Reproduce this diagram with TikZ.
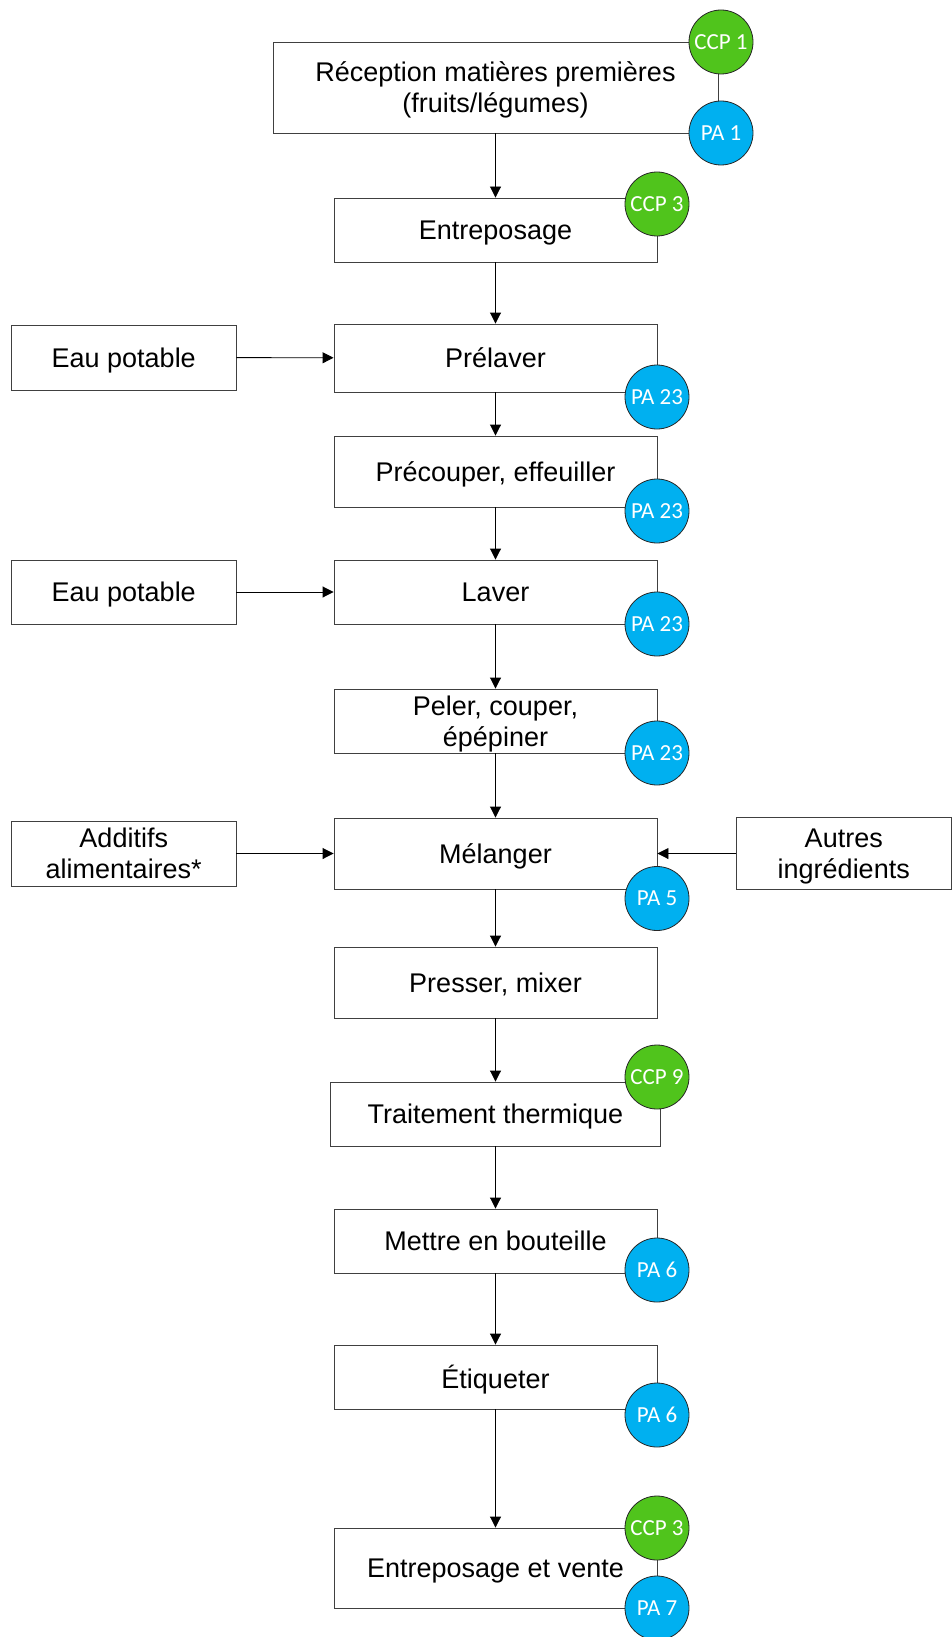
\documentclass[tikz,border=0pt]{standalone}
\usepackage{fontspec}
\setmainfont{Liberation Sans}
\newfontfamily\circfont{Carlito}
\usetikzlibrary{arrows.meta}
\definecolor{ccpgreen}{RGB}{80,196,28}
\definecolor{pablue}{RGB}{0,176,240}
\tikzset{
  box/.style={draw=black!75, line width=0.9pt, fill=white, inner sep=0pt, align=center,
    text depth=0pt, font=\fontsize{27}{31}\selectfont},
  mainbox/.style={box, minimum width=323pt},
  sidebox/.style={box, minimum width=224.5pt},
  badge/.style={circle, draw=black!85, line width=0.8pt, minimum size=64pt, inner sep=0pt,
    text=white, font=\circfont\fontsize{23}{25}\selectfont},
  ccp/.style={badge, fill=ccpgreen},
  pa/.style={badge, fill=pablue},
  flow/.style={draw=black, line width=0.9pt, -{Triangle[length=11pt,width=11pt]}}
}
\begin{document}
\begin{tikzpicture}[x=1pt,y=-1pt]
\useasboundingbox (0,0) rectangle (952,1637);
% main boxes
\node[box, minimum width=445pt, minimum height=91pt] (rec) at (495.5,87.5) {Réception matières premières\\(fruits/légumes)};
\node[mainbox, minimum height=64pt] (ent) at (495.5,230) {Entreposage};
\node[mainbox, minimum height=68pt] (prel) at (495.5,358) {Prélaver};
\node[mainbox, minimum height=71pt] (prec) at (495.5,471.5) {Précouper, effeuiller};
\node[mainbox, minimum height=64pt] (lav) at (495.5,592) {Laver};
\node[mainbox, minimum height=64pt] (pel) at (495.5,721) {Peler, couper,\\épépiner};
\node[mainbox, minimum height=71pt] (mel) at (495.5,853.5) {Mélanger};
\node[mainbox, minimum height=71pt] (pres) at (495.5,982.5) {Presser, mixer};
\node[box, minimum width=330pt, minimum height=64pt] (trait) at (495.5,1114) {Traitement thermique};
\node[mainbox, minimum height=64pt] (met) at (495.5,1241) {Mettre en bouteille};
\node[mainbox, minimum height=64pt] (eti) at (495.5,1377) {Étiqueter};
\node[mainbox, minimum height=80pt] (vente) at (495.5,1568) {Entreposage et vente};
% side boxes
\node[sidebox, minimum height=65pt] (eau1) at (123.75,357.5) {Eau potable};
\node[sidebox, minimum height=64pt] (eau2) at (123.75,592) {Eau potable};
\node[sidebox, minimum height=65pt] (add) at (123.75,853.5) {Additifs\\alimentaires*};
\node[box, minimum width=215.5pt, minimum height=72pt] (aut) at (843.75,853.5) {Autres\\ingrédients};
% flows
\draw[flow] (rec) -- (ent);
\draw[flow] (ent) -- (prel);
\draw[flow] (prel) -- (prec);
\draw[flow] (prec) -- (lav);
\draw[flow] (lav) -- (pel);
\draw[flow] (pel) -- (mel);
\draw[flow] (mel) -- (pres);
\draw[flow] (pres) -- (trait);
\draw[flow] (trait) -- (met);
\draw[flow] (met) -- (eti);
\draw[flow] (eti) -- (vente);
\draw[flow] (eau1) -- (prel);
\draw[flow] (eau2) -- (lav);
\draw[flow] (add) -- (mel);
\draw[flow] (aut) -- (mel);
% badges
\node[ccp] (ccp1) at (721,42) {CCP 1};
\node[pa] (pa1) at (721,133) {PA 1};
\node[ccp] (ccp3a) at (657,204) {CCP 3};
\node[pa] (pa23a) at (657,397) {PA 23};
\node[pa] (pa23b) at (657,511) {PA 23};
\node[pa] (pa23c) at (657,624) {PA 23};
\node[pa] (pa23d) at (657,753) {PA 23};
\node[pa] (pa5) at (657,898.5) {PA 5};
\node[ccp] (ccp9) at (657,1077) {CCP 9};
\node[pa] (pa6a) at (657,1270) {PA 6};
\node[pa] (pa6b) at (657,1415) {PA 6};
\node[ccp] (ccp3b) at (657,1528) {CCP 3};
\node[pa] (pa7) at (657,1608) {PA 7};
\end{tikzpicture}
\end{document}
